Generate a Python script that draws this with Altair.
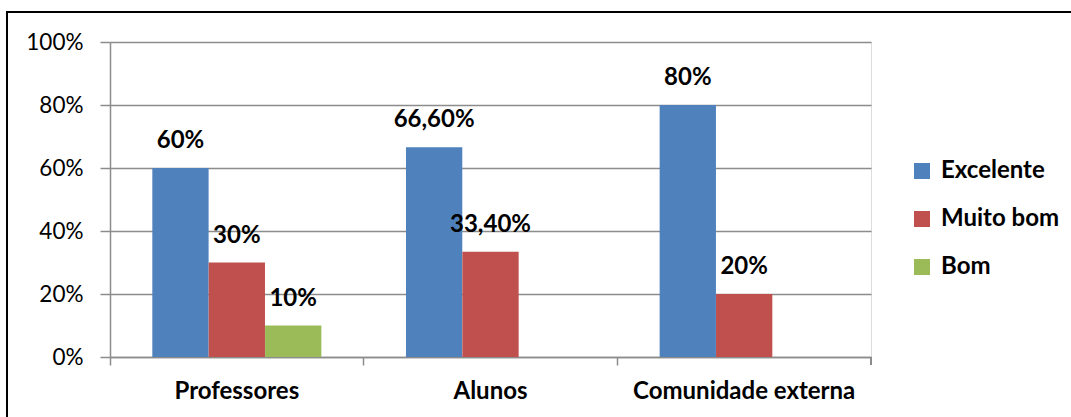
import altair as alt
import pandas as pd

categories = ["Professores", "Alunos", "Comunidade externa"]
series = ["Excelente", "Muito bom", "Bom"]
excelente = [0.60, 0.666, 0.80]
muito_bom = [0.30, 0.334, 0.20]
bom = [0.10, 0.0, 0.0]
labels_exc = ["60%", "66,60%", "80%"]
labels_mb = ["30%", "33,40%", "20%"]
labels_bom = ["10%", "", ""]
colors = ["#4F81BD", "#C0504D", "#9BBB59"]

rows = []
for vals, labs, s in [(excelente, labels_exc, "Excelente"), (muito_bom, labels_mb, "Muito bom"), (bom, labels_bom, "Bom")]:
    for c, v, l in zip(categories, vals, labs):
        if v > 0:
            rows.append({"cat": c, "serie": s, "valor": v, "rotulo": l})
df = pd.DataFrame(rows)

FONT = "Lato"
W, H = 761, 315
BOLD = 24
TICK = 22.5

x_enc = alt.X("cat:N", sort=categories, title=None,
              scale=alt.Scale(paddingInner=0, paddingOuter=0),
              axis=alt.Axis(labelAngle=0, labelFontWeight="bold", labelFontSize=BOLD,
                            labelColor="#000000", labelPadding=22, ticks=False, labelLimit=0,
                            domainColor="#8c8c8c", domainWidth=1.5, labelFont=FONT))
xo = alt.XOffset("serie:N", sort=series,
                 scale=alt.Scale(domain=series, paddingInner=0, paddingOuter=0.75))

bars = alt.Chart(df).mark_bar(size=56.3).encode(
    x=x_enc,
    xOffset=xo,
    y=alt.Y("valor:Q", title=None,
            scale=alt.Scale(domain=[0, 1], nice=False),
            axis=alt.Axis(values=[0, 0.2, 0.4, 0.6, 0.8, 1.0], format=".0%",
                          labelFontSize=TICK, labelColor="#000000", labelPadding=17,
                          tickSize=10, tickColor="#8c8c8c", tickWidth=1.5,
                          domainColor="#8c8c8c", domainWidth=1.5,
                          gridColor="#8c8c8c", gridWidth=1.5, labelFont=FONT)),
    color=alt.Color("serie:N", sort=series,
                    scale=alt.Scale(domain=series, range=colors),
                    legend=alt.Legend(title=None, orient="none", legendX=800, legendY=117,
                                      symbolType="square", symbolSize=256,
                                      symbolStrokeWidth=0, labelFontSize=BOLD,
                                      labelFontWeight="bold", labelFont=FONT,
                                      labelColor="#000000", rowPadding=24, labelOffset=7)),
)

text = alt.Chart(df).mark_text(fontSize=BOLD, fontWeight="bold", font=FONT,
                               baseline="alphabetic", dy=-20, color="#000000").encode(
    x=alt.X("cat:N", sort=categories, title=None,
            scale=alt.Scale(paddingInner=0, paddingOuter=0),
            axis=alt.Axis(orient="bottom", bandPosition=0, labels=False, ticks=True, tickSize=8,
                          tickColor="#8c8c8c", tickWidth=1.5, domain=False, grid=False)),
    xOffset=xo,
    y=alt.Y("valor:Q"),
    text="rotulo:N",
)

end_tick = alt.Chart(df).mark_rule(color="#8c8c8c", strokeWidth=1.5, clip=False).encode(
    x=alt.value(W), y=alt.value(H), y2=alt.value(H + 8)
)

frame = alt.Chart(df).mark_rect(fill=None, stroke="#000000", strokeWidth=1.5, clip=False).encode(
    x=alt.value(-103), x2=alt.value(980), y=alt.value(-30), y2=alt.value(400)
)

chart = alt.layer(bars, text, end_tick, frame).resolve_axis(x="independent").properties(
    width=W, height=H,
    autosize=alt.AutoSizeParams(type="none"),
    padding={"left": 110, "top": 42, "right": 200, "bottom": 60},
).configure_view(stroke=None).configure(background="#ffffff")

chart.save("out.html", embed_options={"renderer": "svg", "actions": False})
